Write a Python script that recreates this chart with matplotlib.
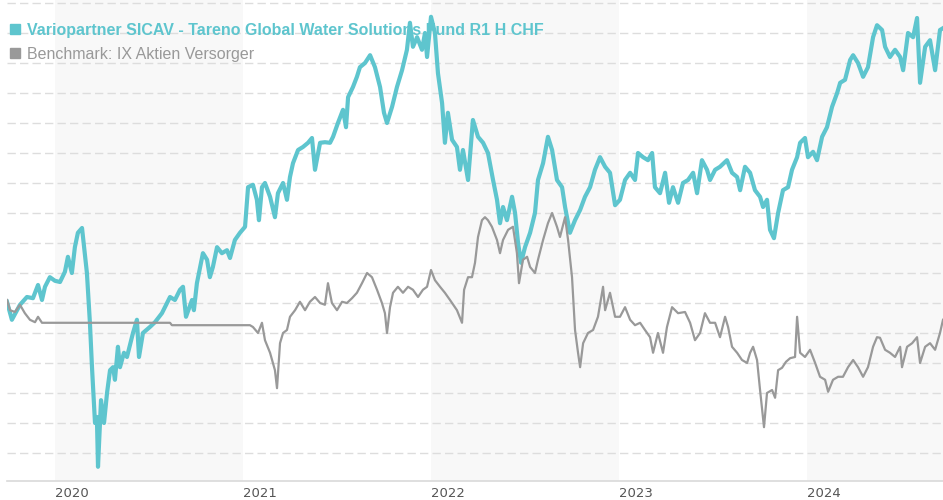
import matplotlib.pyplot as plt
from matplotlib.lines import Line2D

# time in decimal years, values as indexed performance
fund_t = [2019.745, 2019.771, 2019.814, 2019.851, 2019.883, 2019.910, 2019.931, 2019.947, 2019.973, 2020.000,
          2020.027, 2020.053, 2020.069, 2020.090, 2020.106, 2020.122, 2020.144, 2020.170, 2020.186, 2020.197,
          2020.213, 2020.223, 2020.229, 2020.245, 2020.261, 2020.277, 2020.293, 2020.309, 2020.319, 2020.335,
          2020.346, 2020.367, 2020.383, 2020.415, 2020.436, 2020.447, 2020.468, 2020.505, 2020.532, 2020.569,
          2020.612, 2020.638, 2020.665, 2020.681, 2020.697, 2020.729, 2020.739, 2020.755, 2020.787, 2020.809,
          2020.824, 2020.840, 2020.862, 2020.888, 2020.915, 2020.931, 2020.957, 2020.984, 2021.011, 2021.027,
          2021.053, 2021.074, 2021.085, 2021.101, 2021.117, 2021.144, 2021.170, 2021.186, 2021.213, 2021.234,
          2021.250, 2021.266, 2021.293, 2021.319, 2021.346, 2021.367, 2021.383, 2021.410, 2021.436, 2021.463,
          2021.479, 2021.505, 2021.532, 2021.548, 2021.559, 2021.585, 2021.606, 2021.622, 2021.649, 2021.676,
          2021.702, 2021.729, 2021.750, 2021.766, 2021.793, 2021.819, 2021.846, 2021.872, 2021.888, 2021.904,
          2021.926, 2021.952, 2021.968, 2021.979, 2022.000, 2022.021, 2022.037, 2022.059, 2022.074, 2022.090,
          2022.112, 2022.138, 2022.154, 2022.170, 2022.197, 2022.223, 2022.250, 2022.277, 2022.303, 2022.330,
          2022.351, 2022.367, 2022.383, 2022.404, 2022.431, 2022.447, 2022.463, 2022.479, 2022.500, 2022.527,
          2022.553, 2022.569, 2022.596, 2022.622, 2022.644, 2022.670, 2022.697, 2022.713, 2022.739, 2022.766,
          2022.793, 2022.819, 2022.846, 2022.872, 2022.899, 2022.926, 2022.952, 2022.979, 2023.005, 2023.032,
          2023.059, 2023.085, 2023.101, 2023.128, 2023.154, 2023.176, 2023.191, 2023.218, 2023.245, 2023.266,
          2023.287, 2023.314, 2023.340, 2023.367, 2023.394, 2023.415, 2023.441, 2023.468, 2023.484, 2023.511,
          2023.537, 2023.574, 2023.601, 2023.628, 2023.644, 2023.670, 2023.697, 2023.723, 2023.750, 2023.766,
          2023.787, 2023.803, 2023.824, 2023.846, 2023.872, 2023.899, 2023.920, 2023.947, 2023.963, 2023.989,
          2024.005, 2024.032, 2024.053, 2024.080, 2024.106, 2024.133, 2024.160, 2024.176, 2024.202, 2024.229,
          2024.245, 2024.271, 2024.298, 2024.324, 2024.351, 2024.372, 2024.399, 2024.415, 2024.441, 2024.468,
          2024.495, 2024.511, 2024.537, 2024.564, 2024.585, 2024.601, 2024.628, 2024.654, 2024.681, 2024.707,
          2024.723]
fund_v = [100.2, 97.2, 99.7, 101.0, 100.8, 103.0, 100.5, 102.7, 104.3, 103.7,
          103.5, 105.2, 107.7, 105.0, 109.3, 111.7, 112.5, 105.0, 96.7, 89.3,
          80.0, 81.0, 72.7, 83.8, 80.0, 85.0, 88.8, 89.3, 87.2, 92.7,
          89.3, 91.7, 91.0, 95.0, 97.2, 91.0, 95.0, 96.0, 96.8, 98.3,
          101.0, 100.5, 102.2, 102.7, 97.7, 100.5, 98.8, 103.3, 108.3, 107.2,
          104.3, 106.0, 109.3, 108.3, 108.8, 107.5, 110.5, 111.7, 112.7, 119.3,
          119.7, 117.2, 113.8, 119.3, 120.0, 117.7, 114.3, 118.3, 120.0, 117.2,
          121.0, 123.3, 125.5, 126.0, 126.7, 127.5, 122.2, 126.7, 126.8, 126.7,
          127.7, 130.0, 132.2, 129.3, 134.3, 136.0, 137.7, 139.3, 140.0, 141.3,
          139.3, 136.0, 131.7, 130.0, 132.7, 136.0, 138.8, 142.2, 146.7, 142.7,
          144.3, 142.2, 145.0, 141.0, 147.7, 145.0, 138.3, 133.3, 126.7, 131.7,
          127.2, 126.0, 122.2, 125.5, 120.5, 130.5, 127.7, 126.7, 125.0, 120.5,
          117.2, 113.3, 116.0, 113.8, 117.7, 115.0, 110.0, 106.7, 109.3, 111.7,
          115.0, 120.5, 123.3, 127.7, 125.5, 120.5, 119.3, 116.0, 111.7, 113.8,
          115.5, 117.7, 119.3, 122.2, 124.3, 122.7, 121.7, 116.3, 117.2, 120.5,
          121.7, 120.5, 125.0, 124.3, 123.8, 125.0, 119.3, 118.3, 121.7, 116.7,
          119.3, 116.7, 120.0, 120.5, 121.7, 118.3, 123.8, 122.2, 120.5, 122.2,
          122.7, 123.8, 121.7, 121.0, 118.8, 122.7, 121.7, 118.8, 117.7, 116.0,
          117.2, 112.2, 110.8, 115.0, 118.8, 119.3, 122.2, 124.3, 126.7, 127.5,
          124.3, 125.2, 123.8, 127.7, 129.3, 132.7, 135.0, 136.7, 137.2, 140.5,
          141.3, 140.0, 137.7, 139.3, 144.3, 146.3, 145.5, 142.7, 141.0, 142.2,
          141.0, 138.8, 145.0, 144.3, 147.5, 136.7, 142.7, 143.8, 138.8, 145.5,
          145.8]

bench_t = [2019.745, 2019.761, 2019.787, 2019.814, 2019.840, 2019.867, 2019.894, 2019.910, 2019.931, 2020.612,
           2020.622, 2021.037, 2021.053, 2021.080, 2021.101, 2021.117, 2021.144, 2021.170, 2021.181, 2021.197,
           2021.213, 2021.234, 2021.250, 2021.277, 2021.303, 2021.330, 2021.356, 2021.383, 2021.410, 2021.436,
           2021.452, 2021.473, 2021.500, 2021.527, 2021.553, 2021.580, 2021.606, 2021.633, 2021.660, 2021.686,
           2021.713, 2021.739, 2021.755, 2021.766, 2021.782, 2021.798, 2021.824, 2021.851, 2021.878, 2021.904,
           2021.931, 2021.957, 2021.979, 2022.000, 2022.021, 2022.048, 2022.074, 2022.101, 2022.138, 2022.165,
           2022.176, 2022.197, 2022.218, 2022.234, 2022.250, 2022.271, 2022.287, 2022.303, 2022.324, 2022.351,
           2022.367, 2022.383, 2022.410, 2022.436, 2022.457, 2022.468, 2022.489, 2022.511, 2022.527, 2022.553,
           2022.569, 2022.596, 2022.622, 2022.644, 2022.670, 2022.686, 2022.713, 2022.729, 2022.750, 2022.766,
           2022.782, 2022.793, 2022.809, 2022.835, 2022.862, 2022.888, 2022.915, 2022.926, 2022.952, 2022.979,
           2023.005, 2023.032, 2023.059, 2023.085, 2023.112, 2023.138, 2023.165, 2023.181, 2023.207, 2023.234,
           2023.255, 2023.282, 2023.314, 2023.351, 2023.378, 2023.404, 2023.431, 2023.457, 2023.484, 2023.511,
           2023.537, 2023.564, 2023.580, 2023.601, 2023.628, 2023.654, 2023.681, 2023.697, 2023.713, 2023.734,
           2023.750, 2023.771, 2023.787, 2023.814, 2023.830, 2023.846, 2023.867, 2023.888, 2023.910, 2023.936,
           2023.947, 2023.963, 2023.989, 2024.016, 2024.043, 2024.069, 2024.096, 2024.112, 2024.138, 2024.165,
           2024.191, 2024.218, 2024.245, 2024.271, 2024.298, 2024.324, 2024.351, 2024.372, 2024.388, 2024.415,
           2024.441, 2024.468, 2024.495, 2024.505, 2024.532, 2024.559, 2024.585, 2024.601, 2024.628, 2024.654,
           2024.681, 2024.707, 2024.723]
bench_v = [100.5, 98.8, 98.5, 99.7, 98.3, 97.2, 96.8, 97.7, 96.7, 96.7,
           96.3, 96.3, 96.0, 95.0, 96.7, 93.8, 91.7, 88.8, 85.8, 93.3,
           95.0, 95.5, 97.7, 98.8, 100.2, 98.8, 100.2, 101.0, 100.0, 99.7,
           103.3, 100.0, 98.8, 100.2, 100.0, 100.8, 101.7, 103.3, 105.0, 104.3,
           102.2, 100.0, 98.3, 95.0, 99.3, 101.7, 102.7, 101.7, 102.7, 102.2,
           101.0, 102.2, 102.7, 105.5, 103.8, 102.7, 101.7, 100.5, 98.8, 96.7,
           102.2, 104.3, 104.3, 106.7, 111.0, 113.8, 114.3, 113.8, 112.7, 110.5,
           108.3, 110.5, 112.2, 112.7, 108.3, 103.3, 107.2, 107.7, 106.0, 105.0,
           107.2, 110.5, 113.3, 115.0, 112.7, 111.0, 114.3, 110.5, 104.3, 95.5,
           91.7, 89.3, 93.3, 95.0, 95.5, 97.7, 102.7, 98.8, 101.7, 97.7,
           97.7, 99.3, 97.2, 96.3, 96.7, 95.5, 94.3, 91.7, 95.0, 91.7,
           96.0, 99.3, 98.3, 98.5, 96.7, 93.8, 95.0, 98.3, 96.7, 96.7,
           94.3, 97.7, 96.0, 92.7, 91.7, 90.5, 90.0, 91.7, 92.7, 90.5,
           85.5, 79.3, 85.0, 85.5, 84.2, 88.8, 89.2, 90.2, 90.8, 91.0,
           97.7, 91.7, 91.0, 92.2, 90.0, 87.7, 87.2, 85.2, 87.2, 87.7,
           87.7, 89.3, 90.5, 89.3, 87.7, 89.3, 92.7, 94.3, 94.2, 92.2,
           91.7, 91.0, 92.7, 89.3, 92.7, 93.3, 94.3, 90.0, 92.7, 93.3,
           92.2, 95.0, 97.2]

years = [2020, 2021, 2022, 2023, 2024]
shaded_years = [2020, 2022, 2024]
grid_levels = list(range(75, 151, 5))
fund_name = "Variopartner SICAV - Tareno Global Water Solutions Fund R1 H CHF"
bench_name = "Benchmark: IX Aktien Versorger"

fund_color = '#5ec5ce'
bench_color = '#999999'

plt.rcParams['lines.scale_dashes'] = False

fig = plt.figure(figsize=(9.43, 5.0), dpi=100)
ax = fig.add_axes([7 / 943, 19 / 500, 936 / 943, 481 / 500])
ax.set_xlim(2019.745, 2024.723)
ax.set_ylim(70.33, 150.5)

# alternating year bands
for yr in shaded_years:
    ax.axvspan(yr, yr + 1, color='#f8f8f8', lw=0, zorder=0)
for lvl in grid_levels:
    ax.axhline(lvl, color='#dddddd', lw=1.0, ls=(0, (6, 3)), zorder=1)

ax.plot(fund_t, fund_v, color=fund_color, lw=3, zorder=3, solid_joinstyle='round')
ax.plot(bench_t, bench_v, color=bench_color, lw=1.6, zorder=4, solid_joinstyle='round')

for side in ['top', 'left', 'right']:
    ax.spines[side].set_visible(False)
ax.spines['bottom'].set_color('#d9d9d9')
ax.spines['bottom'].set_linewidth(1.2)
ax.set_yticks([])
ax.set_xticks(years)
ax.set_xticklabels([str(y) for y in years], fontsize=9.5, color='#555555', family='DejaVu Sans')
ax.tick_params(axis='x', length=0, pad=4)
for lbl in ax.get_xticklabels():
    lbl.set_horizontalalignment('left')

handles = [Line2D([], [], ls='none', marker='s', ms=6.5, color=fund_color),
           Line2D([], [], ls='none', marker='s', ms=6.5, color=bench_color)]
leg = ax.legend(handles, [fund_name, bench_name], loc='upper left',
                bbox_to_anchor=(9 / 943, 1 - 23 / 500), bbox_transform=fig.transFigure,
                frameon=False, prop={'family': 'Liberation Sans', 'size': 11.5},
                handlelength=0.75, handletextpad=0.4, labelspacing=0.56,
                borderpad=0, borderaxespad=0)
txt = leg.get_texts()
txt[0].set_color(fund_color)
txt[0].set_fontweight('bold')
txt[1].set_color(bench_color)
leg.set_zorder(2)

fig.savefig('out.png', dpi=100)
